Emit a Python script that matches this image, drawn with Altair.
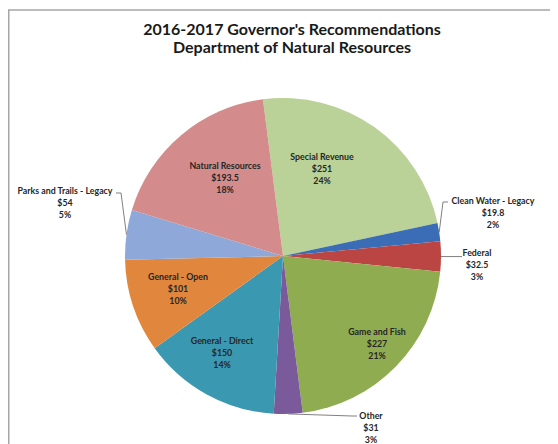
import math
import altair as alt
import pandas as pd

# ---------------- data ----------------
categories = ["Special Revenue", "Clean Water - Legacy", "Federal", "Game and Fish",
              "Other", "General - Direct", "General - Open",
              "Parks and Trails - Legacy", "Natural Resources"]
amounts = [251, 19.8, 32.5, 227, 31, 150, 101, 54, 193.5]
amount_labels = ["$251", "$19.8", "$32.5", "$227", "$31", "$150", "$101", "$54", "$193.5"]
colors = ["#BAD197", "#3A6DB5", "#BB4542", "#8FAD50", "#7A5A9B",
          "#3B98B1", "#E0873D", "#8EA9D9", "#D38C8B"]
title_lines = ["2016-2017 Governor's Recommendations", "Department of Natural Resources"]

# ---------------- layout (page pixels) ----------------
W, H = 542, 436
OX, OY = 8, 8                    # page position of plot origin
CX, CY, R = 283, 256, 158        # pie centre / radius on page
START_DEG = -7.3                 # angle of first slice edge (clockwise from 12 o'clock)
TITLE_X, TITLE_Y, TITLE_DY = 292, 30, 18

# label anchors (first line centre) on page
label_pos = {
    "Special Revenue": (322, 157),
    "Natural Resources": (225, 166),
    "Clean Water - Legacy": (493, 201),
    "Federal": (477, 253),
    "Game and Fish": (377, 332),
    "Other": (371, 416),
    "General - Open": (178, 277),
    "General - Direct": (222, 341),
    "Parks and Trails - Legacy": (65, 191),
}
# leader lines: extra points after the slice edge point (page pixels)
leader_pts = {
    "Clean Water - Legacy": [(443, 202), (448, 202)],
    "Federal": [(462, None)],
    "Other": [(352, 416), (357, 416)],
    "Parks and Trails - Legacy": [(121, 193), (116, 193)],
}

total = sum(amounts)
pct = [f"{round(v / total * 100)}%" for v in amounts]

df = pd.DataFrame({"category": categories, "amount": amounts,
                   "idx": list(range(len(categories)))})

start = math.radians(START_DEG)
pie = alt.Chart(df).mark_arc(outerRadius=R).encode(
    theta=alt.Theta("amount:Q", stack=True,
                    scale=alt.Scale(range=[start, start + 2 * math.pi])),
    color=alt.Color("category:N", scale=alt.Scale(domain=categories, range=colors),
                    legend=None),
    order=alt.Order("idx:Q"),
    x=alt.value(CX - OX), y=alt.value(CY - OY),
)

lab_rows = []
for c, a, p in zip(categories, amount_labels, pct):
    x, y = label_pos[c]
    lab_rows.append({"text": f"{c}\n{a}\n{p}", "x": x - OX, "y": y - OY})
labels = alt.Chart(pd.DataFrame(lab_rows)).mark_text(
    lineBreak="\n", font="Lato", fontSize=8.8, fontWeight="bold",
    color="#262626", lineHeight=12, align="center", baseline="middle"
).encode(
    x=alt.X("x:Q", scale=None, axis=None),
    y=alt.Y("y:Q", scale=None, axis=None),
    text="text:N",
)

title_df = pd.DataFrame({"text": title_lines,
                         "x": [TITLE_X - OX] * 2,
                         "y": [TITLE_Y - OY, TITLE_Y - OY + TITLE_DY]})
title = alt.Chart(title_df).mark_text(
    font="Lato", fontSize=16, fontWeight="bold", color="#1a1a1a",
    align="center", baseline="middle"
).encode(
    x=alt.X("x:Q", scale=None, axis=None),
    y=alt.Y("y:Q", scale=None, axis=None),
    text="text:N",
)

line_rows = []
cum = 0.0
for c, v in zip(categories, amounts):
    mid = START_DEG + (cum + v / 2) / total * 360
    cum += v
    if c not in leader_pts:
        continue
    ex = CX + R * math.sin(math.radians(mid))
    ey = CY - R * math.cos(math.radians(mid))
    pts = [(ex, ey)]
    for px, py in leader_pts[c]:
        pts.append((px, ey if py is None else py))
    for k, (px, py) in enumerate(pts):
        line_rows.append({"seg": c, "ord": k, "x": px - OX, "y": py - OY})
leaders = alt.Chart(pd.DataFrame(line_rows)).mark_line(
    color="#808080", strokeWidth=1
).encode(
    x=alt.X("x:Q", scale=None, axis=None),
    y=alt.Y("y:Q", scale=None, axis=None),
    detail="seg:N",
    order="ord:Q",
)

frame_top = alt.Chart(pd.DataFrame({"a": [0]})).mark_rule(
    color="#A6A6A6", strokeWidth=1.5
).encode(x=alt.value(0), x2=alt.value(W), y=alt.value(10 - OY))
frame_left = alt.Chart(pd.DataFrame({"a": [0]})).mark_rule(
    color="#A6A6A6", strokeWidth=1.5
).encode(x=alt.value(0.75), y=alt.value(10 - OY), y2=alt.value(H))

chart = alt.layer(frame_top, frame_left, pie, leaders, labels, title).properties(
    width=W, height=H,
    autosize=alt.AutoSizeParams(type="none"),
    padding=0,
).configure_view(stroke=None)

chart.save("out.html", embed_options={"renderer": "svg", "actions": False})
